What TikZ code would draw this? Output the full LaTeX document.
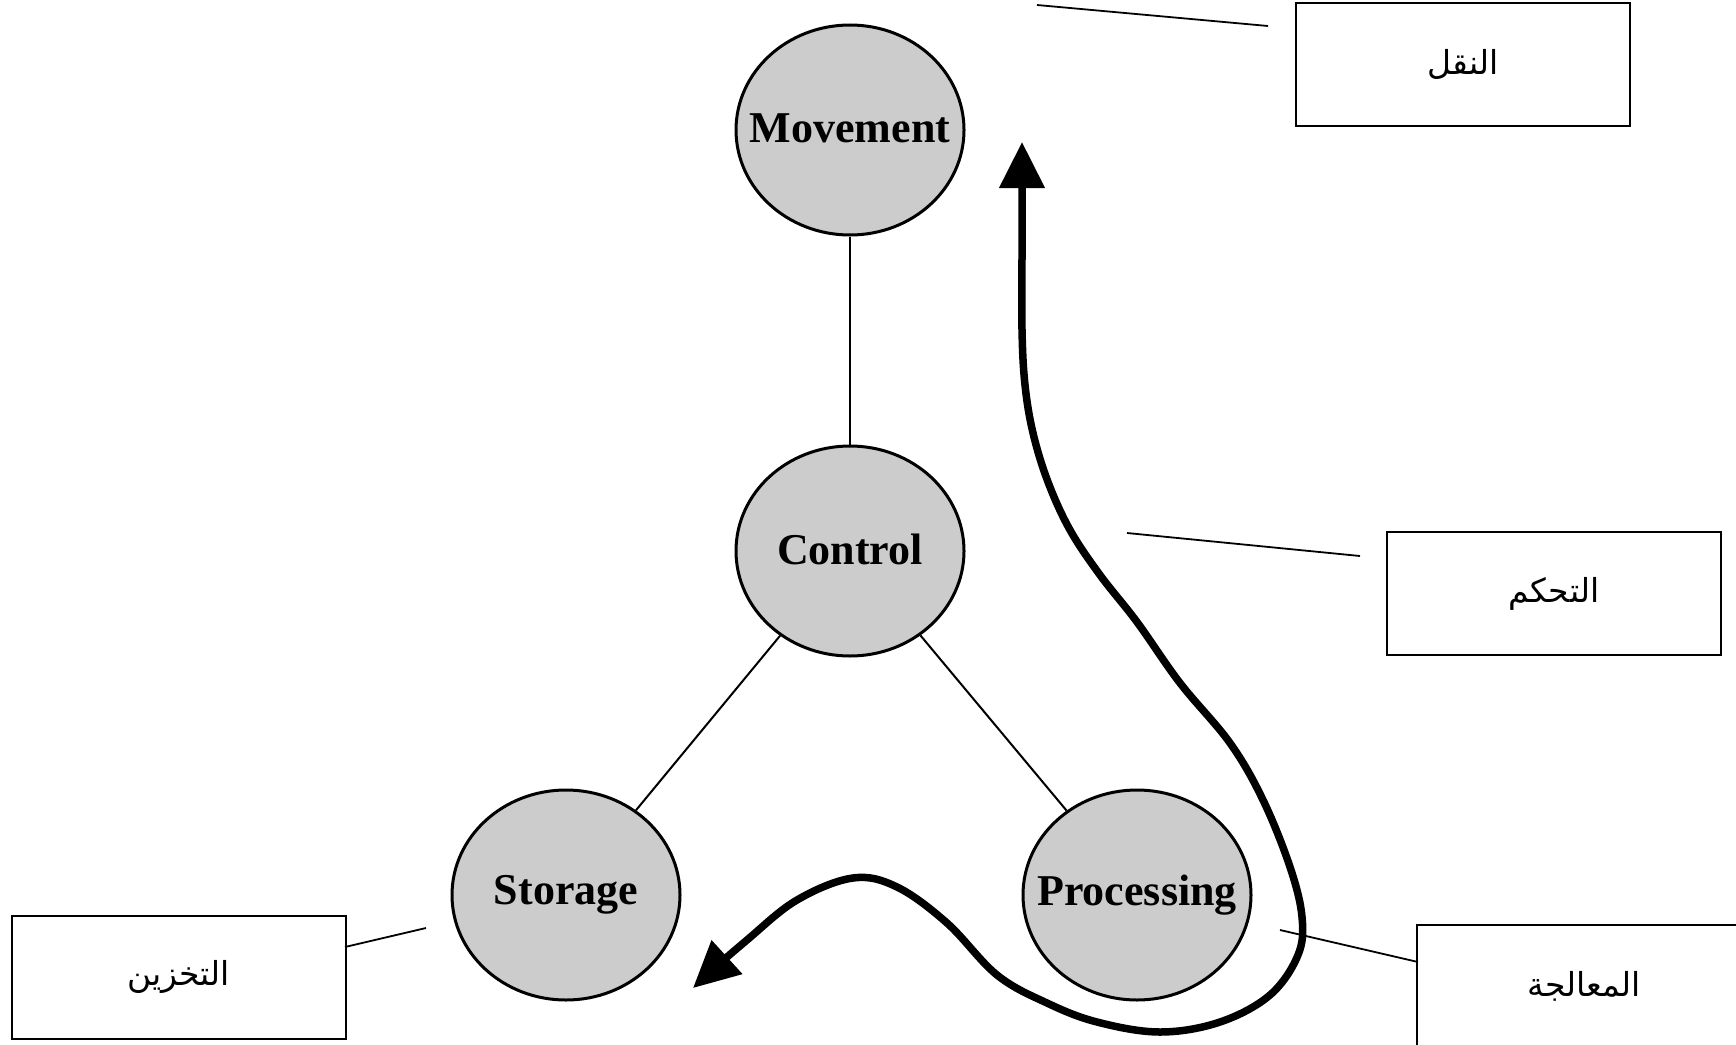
\documentclass[tikz,border=0pt]{standalone}
\usepackage{fontspec}
\setmainfont{Liberation Serif}
\newfontfamily\arabicfont[Script=Arabic]{DejaVu Sans}
\TeXXeTstate=1
\usetikzlibrary{shapes.geometric,arrows.meta}
\definecolor{circfill}{RGB}{204,204,204}
\begin{document}
\begin{tikzpicture}[x=1pt,y=-1pt,
  unit/.style={ellipse, draw, line width=3pt, fill=circfill, minimum width=228pt, minimum height=210pt, inner sep=0pt, font=\fontsize{44}{50}\selectfont\bfseries},
  link/.style={line width=2pt},
  labelbox/.style={draw, line width=2pt, minimum width=334pt, minimum height=123pt, inner sep=0pt, font=\arabicfont\fontsize{33}{40}\selectfont},
  leader/.style={line width=1.8pt},
  flow/.style={line width=7.5pt, {Triangle[length=46pt,width=44pt]}-{Triangle[length=46pt,width=44pt]}}
]
\useasboundingbox (0,0) rectangle (1736,1044);
\clip (0,0) rectangle (1736,1044);

% units
\node[unit] (mov) at (850,130) {\raisebox{4pt}{\makebox[0pt][c]{Movement}}};
\node[unit] (ctl) at (850,551) {\raisebox{4pt}{\makebox[0pt][c]{Control}}};
\node[unit] (sto) at (566,895) {\raisebox{2pt}{\makebox[0pt][c]{Storage}}};
\node[unit] (pro) at (1137,895) {\raisebox{2pt}{\makebox[0pt][c]{Processing}}};

\draw[link] (mov) -- (ctl);
\draw[link] (ctl) -- (sto);
\draw[link] (ctl) -- (pro);

% label boxes
\node[labelbox] (bmov) at (1463,64.5) {\raisebox{-3pt}{\beginR النقل\endR}};
\node[labelbox] (bctl) at (1554,593.5) {\raisebox{-3pt}{\beginR التحكم\endR}};
\node[labelbox] (bsto) at (178.5,977) {\raisebox{-3pt}{\beginR التخزين\endR}};
\node[labelbox] (bpro) at (1584,986.5) {\raisebox{-3pt}{\beginR المعالجة\endR}};

% leader lines
\coordinate (lm1) at (1037,5);
\coordinate (lm2) at (1268,26);
\coordinate (lc1) at (1127,533);
\coordinate (lc2) at (1360,556);
\coordinate (ls1) at (345,947);
\coordinate (ls2) at (426,928);
\coordinate (lp1) at (1280,930);
\coordinate (lp2) at (1418,962);
\draw[leader] (lm1) -- (lm2);
\draw[leader] (lc1) -- (lc2);
\draw[leader] (ls1) -- (ls2);
\draw[leader] (lp1) -- (lp2);

% flow arrow
\draw[flow] plot[smooth, tension=0.6] coordinates {
  (693,988) (747,940) (797,900) (853,878) (897,887) (947,923) (997,975)
  (1047,1003) (1097,1022) (1160,1032) (1220,1022) (1270,995) (1298,955)
  (1302,917) (1290,867) (1263,800) (1230,743) (1180,683) (1137,622)
  (1100,575) (1070,530) (1048,482) (1033,433) (1025,385) (1022,330)
  (1022,250) (1022,142)};
\end{tikzpicture}
\end{document}
